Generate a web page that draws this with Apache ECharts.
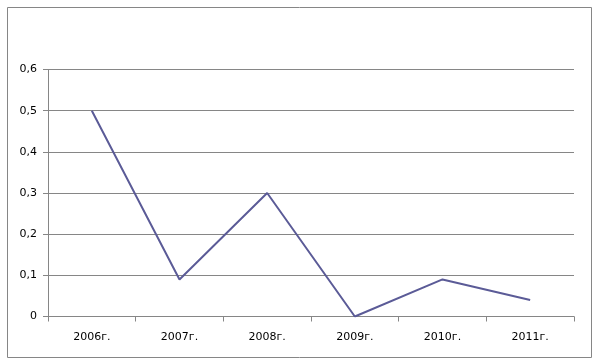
<!DOCTYPE html>
<html><head><meta charset="utf-8">
<script src="https://cdn.jsdelivr.net/npm/echarts@6/dist/echarts.min.js"></script>
<style>html,body{margin:0;padding:0;background:#fff}#c{width:596px;height:361px}</style>
</head><body><div id="c"></div>
<script>
var categories = ['2006г.', '2007г.', '2008г.', '2009г.', '2010г.', '2011г.'];
var values = [0.5, 0.09, 0.3, 0, 0.09, 0.04];
var yTicks = [0, 0.1, 0.2, 0.3, 0.4, 0.5, 0.6];

var chart = echarts.init(document.getElementById('c'), null, {renderer: 'canvas'});
chart.setOption({
  animation: false,
  backgroundColor: '#fff',
  graphic: [{
    type: 'rect', left: 5, top: 5,
    shape: {width: 584, height: 350},
    style: {fill: 'none', stroke: '#868686', lineWidth: 1}
  }],
  grid: {left: 48, right: 22, top: 69.5, bottom: 44.5, containLabel: false},
  xAxis: {
    type: 'category', data: categories, boundaryGap: true,
    axisLine: {lineStyle: {color: '#868686', width: 1}},
    axisTick: {show: true, length: 5, alignWithLabel: false, lineStyle: {color: '#868686'}},
    axisLabel: {color: '#000', fontFamily: 'DejaVu Sans', fontSize: 11, margin: 15},
    splitLine: {show: false}
  },
  yAxis: {
    type: 'value', min: 0, max: yTicks[yTicks.length - 1], interval: 0.1,
    axisLine: {show: true, lineStyle: {color: '#868686', width: 1}},
    axisTick: {show: true, length: 5, inside: false, lineStyle: {color: '#868686'}},
    axisLabel: {color: '#000', fontFamily: 'DejaVu Sans', fontSize: 11, margin: 11,
      padding: [4, 0, 0, 0],
      formatter: function (v) { return String(Math.round(v * 10) / 10).replace('.', ','); }},
    splitLine: {show: true, lineStyle: {color: '#868686', width: 1}}
  },
  series: [{
    type: 'line', data: values, symbol: 'none',
    lineStyle: {color: '#5b5b97', width: 2}
  }]
});
</script></body></html>
